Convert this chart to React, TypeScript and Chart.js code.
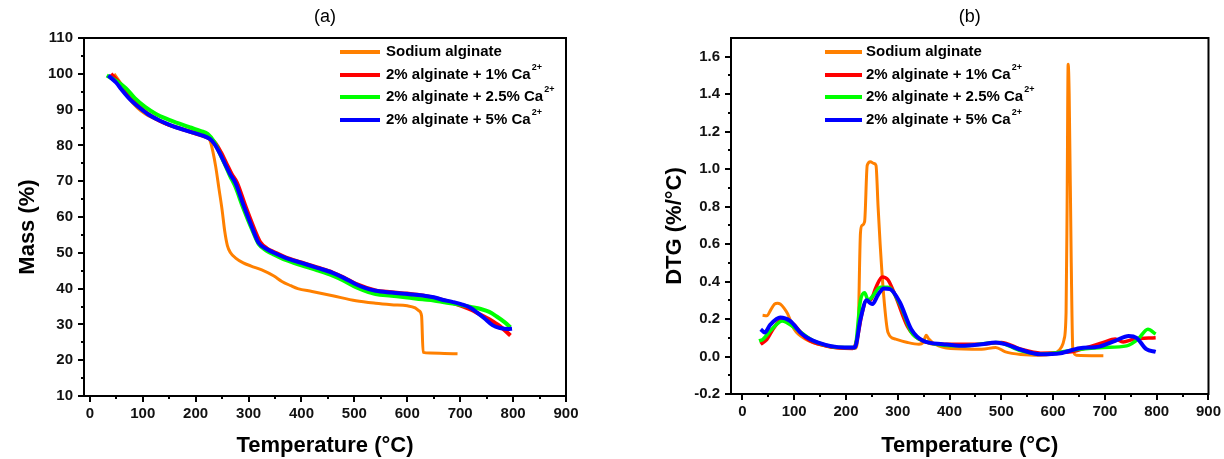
import React, { useEffect, useRef } from "react";
import { Chart, registerables } from "chart.js";

Chart.register(...registerables);

// ---- series names and colours ----
const seriesNames = ["Sodium alginate", "2% alginate + 1% Ca", "2% alginate + 2.5% Ca", "2% alginate + 5% Ca"];
const seriesSuper = ["", "2+", "2+", "2+"];
const seriesColors = ["#FF8000", "#FF0000", "#00FF00", "#0000FF"];

// ---- axis ticks ----
const tempTicks = [0, 100, 200, 300, 400, 500, 600, 700, 800, 900];
const massTicks = [10, 20, 30, 40, 50, 60, 70, 80, 90, 100, 110];
const dtgTicks = [-0.2, 0, 0.2, 0.4, 0.6, 0.8, 1.0, 1.2, 1.4, 1.6];

// ---- (a) mass loss, %, against temperature, °C ----
const tgaSodiumT = [46, 60, 75, 90, 105, 125, 150, 180, 210, 227, 233, 238, 244, 250, 255, 260, 266, 275, 290, 305, 325, 348, 363, 380, 393, 420, 459, 503, 540, 570, 600, 615, 622, 627, 630, 643, 670, 695];
const tgaSodiumMass = [100, 97, 93, 90.5, 88.8, 87.3, 85.6, 84.4, 83.2, 81.4, 78, 74, 68, 62, 56, 52, 50, 48.6, 47.2, 46.3, 45.2, 43.5, 42, 40.8, 40, 39.2, 38, 36.6, 35.9, 35.5, 35.2, 34.6, 33.8, 32.4, 22.2, 22, 21.9, 21.8];

const tgaCa1T = [40, 55, 70, 90, 110, 130, 150, 175, 200, 222, 230, 238, 248, 258, 268, 278, 293, 311, 322, 335, 350, 370, 400, 430, 459, 480, 503, 540, 570, 600, 629, 660, 690, 717, 735, 754, 775, 795];
const tgaCa1Mass = [100, 97.5, 94.5, 91.3, 88.8, 87.0, 85.7, 84.5, 83.3, 82.2, 81.6, 80.5, 78, 75, 72, 69.6, 63.5, 56.6, 53, 51.2, 50.1, 48.7, 47.3, 45.9, 44.5, 43.1, 41.3, 39.5, 39.0, 38.6, 38.1, 37.1, 35.8, 34.3, 33.0, 31.5, 29.5, 26.9];

const tgaCa25T = [32, 50, 68, 85, 105, 125, 142, 165, 190, 210, 223, 235, 245, 255, 265, 275, 290, 308, 319, 335, 348, 370, 400, 430, 459, 480, 503, 520, 540, 570, 600, 629, 650, 670, 700, 720, 739, 755, 769, 785, 795];
const tgaCa25Mass = [99.5, 98, 96, 93.2, 90.7, 88.8, 87.6, 86.3, 85, 84, 83.2, 81, 78, 74.8, 71.5, 68.5, 62.5, 56, 52.5, 50.5, 49.5, 48.0, 46.5, 45.1, 43.6, 42.2, 40.4, 39.4, 38.5, 38.0, 37.5, 37.0, 36.7, 36.2, 35.5, 34.9, 34.3, 33.5, 32.2, 30.5, 29.2];

const tgaCa5T = [35, 50, 60, 75, 90, 110, 127, 145, 164, 190, 210, 227, 235, 245, 255, 265, 275, 290, 308, 319, 335, 348, 370, 400, 430, 459, 480, 503, 520, 540, 570, 600, 629, 650, 666, 685, 703, 720, 732, 745, 761, 775, 791, 798];
const tgaCa5Mass = [99.5, 97.5, 95.6, 93, 91, 88.7, 87.3, 86.1, 85, 83.8, 82.9, 81.8, 80.5, 78, 75, 72, 69.6, 63.5, 56.6, 52.8, 51, 50, 48.6, 47.2, 45.8, 44.4, 43, 41.2, 40.2, 39.4, 38.9, 38.5, 38.1, 37.6, 36.9, 36.3, 35.6, 34.6, 33.3, 31.8, 29.8, 29, 28.7, 28.8];

// ---- (b) derivative mass loss, %/°C, against temperature, °C ----
const dtgSodiumT = [39, 47, 55, 62, 68, 73, 80, 87, 100, 122, 160, 198, 217, 223, 228, 231, 236, 241, 247, 254, 258, 262, 266, 273, 281, 296, 319, 341, 349, 355, 360, 372, 402, 462, 489, 508, 538, 576, 606, 616, 621, 625, 627, 629, 631, 635, 638, 645, 697];
const dtgSodiumRate = [0.22, 0.217, 0.25, 0.28, 0.285, 0.28, 0.26, 0.23, 0.146, 0.093, 0.057, 0.043, 0.043, 0.1, 0.66, 0.7, 0.72, 1.02, 1.04, 1.03, 1.02, 0.8, 0.6, 0.32, 0.13, 0.093, 0.075, 0.066, 0.075, 0.114, 0.093, 0.066, 0.043, 0.039, 0.048, 0.025, 0.011, 0.007, 0.021, 0.05, 0.09, 0.235, 0.8, 1.56, 1.4, 0.5, 0.04, 0.007, 0.004];

const dtgCa1T = [35, 47, 60, 77, 90, 100, 122, 160, 213, 222, 231, 240, 247, 258, 270, 281, 296, 319, 341, 387, 462, 500, 538, 576, 636, 666, 697, 720, 735, 757, 798];
const dtgCa1Rate = [0.066, 0.09, 0.15, 0.2, 0.19, 0.17, 0.1, 0.057, 0.043, 0.1, 0.23, 0.3, 0.3, 0.37, 0.425, 0.41, 0.32, 0.16, 0.093, 0.066, 0.066, 0.075, 0.039, 0.018, 0.025, 0.048, 0.075, 0.093, 0.078, 0.093, 0.1];

const dtgCa25T = [32, 39, 55, 77, 100, 137, 198, 217, 228, 236, 243, 251, 266, 281, 304, 326, 349, 424, 492, 538, 576, 651, 697, 742, 764, 783, 798];
const dtgCa25Rate = [0.084, 0.09, 0.14, 0.19, 0.155, 0.084, 0.048, 0.048, 0.3, 0.34, 0.3, 0.32, 0.37, 0.37, 0.28, 0.13, 0.084, 0.057, 0.075, 0.03, 0.012, 0.039, 0.048, 0.057, 0.093, 0.146, 0.12];

const dtgCa5T = [35.5, 43, 54, 73, 92, 115, 145, 198, 217, 228, 240, 247, 251, 262, 273, 285, 304, 326, 349, 387, 424, 462, 489, 508, 538, 576, 614, 651, 689, 720, 746, 761, 780, 798];
const dtgCa5Rate = [0.146, 0.128, 0.17, 0.208, 0.19, 0.12, 0.075, 0.048, 0.048, 0.2, 0.3, 0.285, 0.28, 0.33, 0.363, 0.36, 0.29, 0.146, 0.084, 0.066, 0.057, 0.066, 0.075, 0.066, 0.036, 0.012, 0.018, 0.044, 0.053, 0.084, 0.11, 0.1, 0.039, 0.025];

const FONT = "'Liberation Sans', Arial, sans-serif";

const toPoints = (xs: number[], ys: number[]) => xs.map((x, i) => ({ x, y: ys[i] }));

type PanelSpec = {
  title: string;
  yTitle: string;
  series: { x: number; y: number }[][];
  lineWidths: number[];
  xMin: number;
  yMin: number;
  yMax: number;
  yTicks: number[];
  yMinorStep: number;
  yDecimals: number;
  yAxisWidth: number;
  xAxisHeight: number;
  padRight: number;
  padTop: number;
  yTitleX: number;
  legendLineX: [number, number];
  legendTextX: number;
  legendRowsY: number[];
};

// Frame, tick marks, titles and the legend (which needs superscripts).
const decorPlugin = {
  id: "decor",
  afterDraw(chart: any, _args: any, opts: any) {
    const spec: PanelSpec = opts.spec;
    const { ctx, chartArea: a, scales } = chart;
    const xs = scales.x;
    const ys = scales.y;
    ctx.save();
    ctx.strokeStyle = "#000";
    ctx.lineWidth = 2;
    ctx.strokeRect(a.left, a.top, a.right - a.left, a.bottom - a.top);

    ctx.lineWidth = 2;
    ctx.beginPath();
    // x ticks: major every 100, minor every 50
    for (let v = 0; v <= 900; v += 50) {
      const px = Math.round(xs.getPixelForValue(v));
      const len = v % 100 === 0 ? 6 : 3;
      ctx.moveTo(px, a.bottom);
      ctx.lineTo(px, a.bottom + len);
    }
    // y ticks: labelled majors, unlabelled minors halfway between
    const n = Math.round((spec.yTicks[spec.yTicks.length - 1] - spec.yTicks[0]) / spec.yMinorStep);
    for (let i = 0; i <= n; i++) {
      const v = spec.yTicks[0] + i * spec.yMinorStep;
      const py = Math.round(ys.getPixelForValue(v));
      const len = i % 2 === 0 ? 6 : 3;
      ctx.moveTo(a.left, py);
      ctx.lineTo(a.left - len, py);
    }
    ctx.stroke();

    const cx = (a.left + a.right) / 2;
    ctx.fillStyle = "#000";
    ctx.textAlign = "center";
    ctx.textBaseline = "middle";
    ctx.font = `18px ${FONT}`;
    ctx.fillText(spec.title, cx, 17);

    ctx.font = `bold 22px ${FONT}`;
    ctx.fillText("Temperature (°C)", cx, 446);

    ctx.save();
    ctx.translate(spec.yTitleX, (a.top + a.bottom) / 2 + 10);
    ctx.rotate(-Math.PI / 2);
    ctx.fillText(spec.yTitle, 0, 0);
    ctx.restore();

    // legend
    ctx.textAlign = "left";
    seriesNames.forEach((name, i) => {
      const y = spec.legendRowsY[i];
      ctx.strokeStyle = seriesColors[i];
      ctx.lineWidth = 4;
      ctx.beginPath();
      ctx.moveTo(spec.legendLineX[0], y);
      ctx.lineTo(spec.legendLineX[1], y);
      ctx.stroke();
      ctx.fillStyle = "#000";
      ctx.font = `bold 15px ${FONT}`;
      ctx.fillText(name, spec.legendTextX, y);
      if (seriesSuper[i]) {
        const w = ctx.measureText(name).width;
        ctx.font = `bold 9px ${FONT}`;
        ctx.fillText(seriesSuper[i], spec.legendTextX + w + 1, y - 7);
      }
    });
    ctx.restore();
  },
};

function ThermoPanel({ spec }: { spec: PanelSpec }) {
  const ref = useRef<HTMLCanvasElement>(null);
  useEffect(() => {
    if (!ref.current) return;
    const chart = new Chart(ref.current, {
      type: "line",
      data: {
        datasets: spec.series.map((pts, i) => ({
          label: seriesNames[i],
          data: pts,
          borderColor: seriesColors[i],
          backgroundColor: seriesColors[i],
          borderWidth: spec.lineWidths[i],
          pointRadius: 0,
          cubicInterpolationMode: "monotone" as const,
          fill: false,
          // later series are painted over earlier ones
          order: spec.series.length - 1 - i,
        })),
      },
      options: {
        animation: false,
        responsive: false,
        events: [],
        layout: { padding: { top: spec.padTop, right: spec.padRight, left: 0, bottom: 0 } },
        plugins: {
          legend: { display: false },
          title: { display: false },
          tooltip: { enabled: false },
          decor: { spec },
        } as any,
        scales: {
          x: {
            type: "linear",
            min: spec.xMin,
            max: 900,
            grid: { display: false, drawTicks: true, tickLength: 6 },
            border: { display: false },
            afterBuildTicks: (s: any) => {
              s.ticks = tempTicks.map((v) => ({ value: v }));
            },
            afterFit: (s: any) => {
              s.height = spec.xAxisHeight;
            },
            ticks: {
              autoSkip: false,
              maxRotation: 0,
              padding: 3,
              color: "#111",
              font: { family: FONT, size: 15, weight: "bold" },
              callback: (v: any) => String(v),
            },
          },
          y: {
            type: "linear",
            min: spec.yMin,
            max: spec.yMax,
            grid: { display: false, drawTicks: true, tickLength: 6 },
            border: { display: false },
            afterBuildTicks: (s: any) => {
              s.ticks = spec.yTicks.map((v) => ({ value: v }));
            },
            afterFit: (s: any) => {
              s.width = spec.yAxisWidth;
            },
            ticks: {
              autoSkip: false,
              padding: 5,
              color: "#111",
              font: { family: FONT, size: 15, weight: "bold" },
              callback: (v: any) => Number(v).toFixed(spec.yDecimals),
            },
          },
        },
      },
      plugins: [decorPlugin],
    });
    return () => chart.destroy();
  }, [spec]);
  return <canvas ref={ref} width={612} height={459} style={{ display: "block", width: 612, height: 459 }} />;
}

const massPanel: PanelSpec = {
  title: "(a)",
  yTitle: "Mass (%)",
  series: [
    toPoints(tgaSodiumT, tgaSodiumMass),
    toPoints(tgaCa1T, tgaCa1Mass),
    toPoints(tgaCa25T, tgaCa25Mass),
    toPoints(tgaCa5T, tgaCa5Mass),
  ],
  lineWidths: [3, 4, 4, 4],
  xMin: -11,
  yMin: 10,
  yMax: 110,
  yTicks: massTicks,
  yMinorStep: 5,
  yDecimals: 0,
  yAxisWidth: 84,
  xAxisHeight: 63,
  padRight: 46,
  padTop: 38,
  yTitleX: 28,
  legendLineX: [340, 380],
  legendTextX: 386,
  legendRowsY: [52, 75, 97, 120],
};

const dtgPanel: PanelSpec = {
  title: "(b)",
  yTitle: "DTG (%/°C)",
  series: [
    toPoints(dtgSodiumT, dtgSodiumRate),
    toPoints(dtgCa1T, dtgCa1Rate),
    toPoints(dtgCa25T, dtgCa25Rate),
    toPoints(dtgCa5T, dtgCa5Rate),
  ],
  lineWidths: [3, 3.5, 3.5, 4],
  xMin: -22,
  yMin: -0.2,
  yMax: 1.7,
  yTicks: dtgTicks,
  yMinorStep: 0.1,
  yDecimals: 1,
  yAxisWidth: 119,
  xAxisHeight: 65,
  padRight: 14,
  padTop: 38,
  yTitleX: 63,
  legendLineX: [213, 250],
  legendTextX: 254,
  legendRowsY: [52, 75, 97, 120],
};

export default function App() {
  return (
    <div style={{ position: "absolute", left: 0, top: 0, width: 1224, height: 459, background: "#fff", display: "flex" }}>
      <ThermoPanel spec={massPanel} />
      <ThermoPanel spec={dtgPanel} />
    </div>
  );
}
